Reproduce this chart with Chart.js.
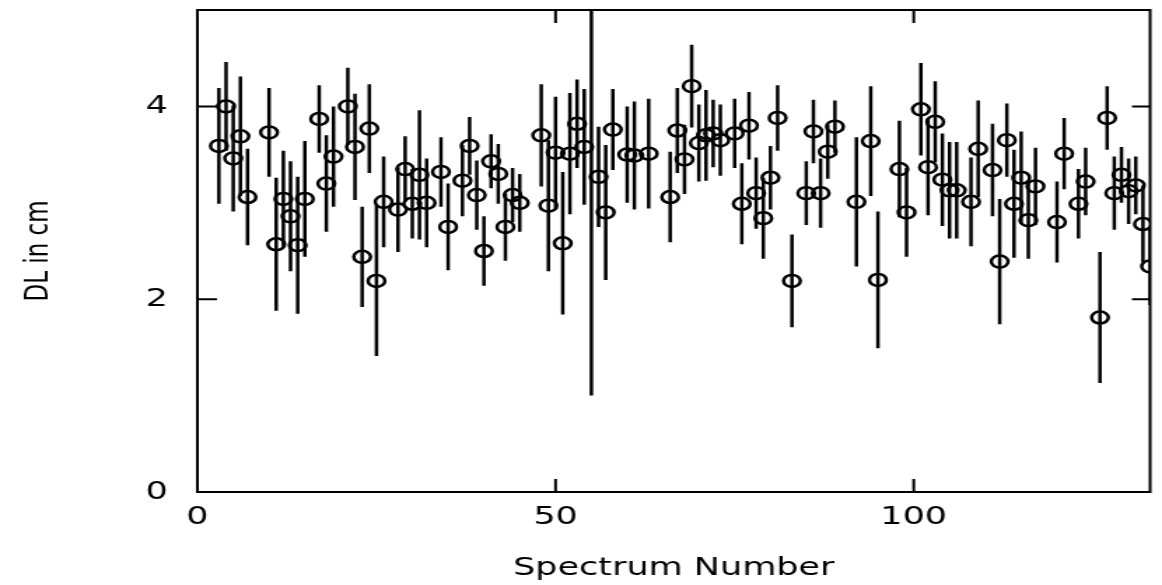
<!DOCTYPE html>
<html>
<head>
<meta charset="utf-8">
<script src="https://cdn.jsdelivr.net/npm/chart.js@4/dist/chart.umd.min.js"></script>
<style>
  html, body { margin: 0; padding: 0; background: #fff; }
</style>
</head>
<body>
<!-- drawn narrow and stretched sideways, like the original plot -->
<canvas id="myChart" width="830" height="585" style="display:block;width:1162px;height:585px"></canvas>
<script>
var spectrum = [3, 4, 5, 6, 7, 10, 11, 12, 13, 14, 15, 17, 18, 19, 21, 22, 23, 24, 25, 26,
  28, 29, 30, 31, 32, 34, 35, 37, 38, 39, 40, 41, 42, 43, 44, 45, 48, 49, 50, 51,
  52, 53, 54, 55, 56, 57, 58, 60, 61, 63, 66, 67, 68, 69, 70, 71, 72, 73, 75, 76,
  77, 78, 79, 80, 81, 83, 85, 86, 87, 88, 89, 92, 94, 95, 98, 99, 101, 102, 103, 104,
  105, 106, 108, 109, 111, 112, 113, 114, 115, 116, 117, 120, 121, 123, 124, 126, 127, 128, 129, 130,
  131, 132, 133];

var dl = [3.59, 4.00, 3.46, 3.69, 3.06, 3.73, 2.57, 3.04, 2.86, 2.56, 3.04, 3.87, 3.20, 3.48, 4.00, 3.58, 2.44, 3.77, 2.19, 3.01,
  2.93, 3.35, 2.99, 3.29, 3.00, 3.32, 2.75, 3.23, 3.59, 3.08, 2.50, 3.43, 3.30, 2.75, 3.08, 3.00, 3.70, 2.97, 3.52, 2.58,
  3.51, 3.82, 3.58, 5.60, 3.27, 2.90, 3.76, 3.50, 3.49, 3.51, 3.06, 3.75, 3.45, 4.21, 3.62, 3.70, 3.72, 3.65, 3.72, 2.99,
  3.80, 3.10, 2.84, 3.26, 3.88, 2.19, 3.10, 3.74, 3.10, 3.53, 3.79, 3.01, 3.64, 2.20, 3.35, 2.90, 3.97, 3.37, 3.84, 3.24,
  3.13, 3.13, 3.01, 3.56, 3.34, 2.39, 3.65, 2.99, 3.26, 2.82, 3.17, 2.80, 3.51, 2.99, 3.22, 1.81, 3.88, 3.10, 3.29, 3.12,
  3.18, 2.78, 2.34];

var dlErr = [0.60, 0.46, 0.55, 0.62, 0.50, 0.46, 0.69, 0.50, 0.57, 0.71, 0.60, 0.35, 0.50, 0.52, 0.40, 0.55, 0.52, 0.46, 0.78, 0.47,
  0.44, 0.34, 0.36, 0.67, 0.46, 0.36, 0.45, 0.37, 0.30, 0.36, 0.36, 0.28, 0.31, 0.35, 0.28, 0.30, 0.53, 0.68, 0.58, 0.74,
  0.63, 0.46, 0.60, 4.60, 0.52, 0.70, 0.42, 0.50, 0.56, 0.57, 0.47, 0.44, 0.36, 0.43, 0.40, 0.47, 0.35, 0.37, 0.36, 0.42,
  0.35, 0.37, 0.42, 0.33, 0.34, 0.48, 0.33, 0.33, 0.36, 0.28, 0.27, 0.67, 0.57, 0.71, 0.50, 0.46, 0.48, 0.50, 0.42, 0.48,
  0.50, 0.50, 0.46, 0.50, 0.48, 0.65, 0.38, 0.56, 0.48, 0.40, 0.40, 0.42, 0.37, 0.36, 0.35, 0.68, 0.33, 0.38, 0.29, 0.34,
  0.30, 0.40, 0.40];

var xTicks = [0, 50, 100];
var yTicks = [0, 2, 4];

var font = 'DejaVu Sans';

var points = spectrum.map(function(s, i) { return { x: s, y: dl[i] }; });

// error bars, box and inward tick marks
var frame = {
  id: 'frame',
  beforeDatasetsDraw: function(chart) {
    var ctx = chart.ctx, xs = chart.scales.x, ys = chart.scales.y, a = chart.chartArea;
    ctx.save();
    ctx.beginPath();
    ctx.rect(a.left, a.top, a.right - a.left, a.bottom - a.top);
    ctx.clip();
    ctx.strokeStyle = '#000';
    ctx.lineWidth = 2.5;
    for (var i = 0; i < spectrum.length; i++) {
      var x = xs.getPixelForValue(spectrum[i]);
      ctx.beginPath();
      ctx.moveTo(x, ys.getPixelForValue(dl[i] + dlErr[i]));
      ctx.lineTo(x, ys.getPixelForValue(dl[i] - dlErr[i]));
      ctx.stroke();
    }
    ctx.restore();
  },
  afterDraw: function(chart) {
    var ctx = chart.ctx, xs = chart.scales.x, ys = chart.scales.y, a = chart.chartArea;
    ctx.save();
    ctx.strokeStyle = '#000';
    ctx.lineWidth = 2;
    ctx.strokeRect(a.left, a.top, a.right - a.left, a.bottom - a.top);
    ctx.beginPath();
    yTicks.forEach(function(v) {
      var y = ys.getPixelForValue(v);
      ctx.moveTo(a.left, y); ctx.lineTo(a.left + 14, y);
      ctx.moveTo(a.right, y); ctx.lineTo(a.right - 13, y);
    });
    xTicks.forEach(function(v) {
      var x = xs.getPixelForValue(v);
      ctx.moveTo(x, a.top); ctx.lineTo(x, a.top + 13);
      ctx.moveTo(x, a.bottom); ctx.lineTo(x, a.bottom - 13);
    });
    ctx.stroke();
    ctx.restore();
  }
};

var chart = new Chart(document.getElementById('myChart').getContext('2d'), {
  type: 'scatter',
  data: {
    datasets: [{
      data: points,
      showLine: false,
      pointRadius: 6,
      pointBorderWidth: 2.5,
      pointBorderColor: '#000',
      pointBackgroundColor: 'rgba(0,0,0,0)',
      pointHoverRadius: 6
    }]
  },
  options: {
    responsive: false,
    animation: false,
    devicePixelRatio: 1,
    layout: { padding: { left: 0, right: 6, top: 10, bottom: 0 } },
    plugins: { legend: { display: false }, tooltip: { enabled: false } },
    scales: {
      x: {
        type: 'linear', position: 'bottom', min: 0, max: 133,
        grid: { display: false, drawTicks: false },
        border: { display: false },
        afterBuildTicks: function(s) { s.ticks = xTicks.map(function(v) { return { value: v }; }); },
        afterFit: function(s) { s.height = 93; s.paddingLeft = 0; s.paddingRight = 0; },
        ticks: { color: '#000', padding: 10, maxRotation: 0, autoSkip: false, font: { family: font, size: 25 } },
        title: { display: true, text: 'Spectrum Number', color: '#000', padding: { top: 0, bottom: 2 }, font: { family: font, size: 25 } }
      },
      y: {
        type: 'linear', position: 'left', min: 0, max: 5,
        grid: { display: false, drawTicks: false },
        border: { display: false },
        afterBuildTicks: function(s) { s.ticks = yTicks.map(function(v) { return { value: v }; }); },
        afterFit: function(s) { s.width = 141; s.paddingTop = 0; s.paddingBottom = 0; },
        ticks: { color: '#000', padding: 21, font: { family: font, size: 25 } },
        title: { display: true, text: 'DL in cm', color: '#000', padding: { top: 14, bottom: 0 }, font: { family: font, size: 23 } }
      }
    }
  },
  plugins: [frame]
});
</script>
</body>
</html>
